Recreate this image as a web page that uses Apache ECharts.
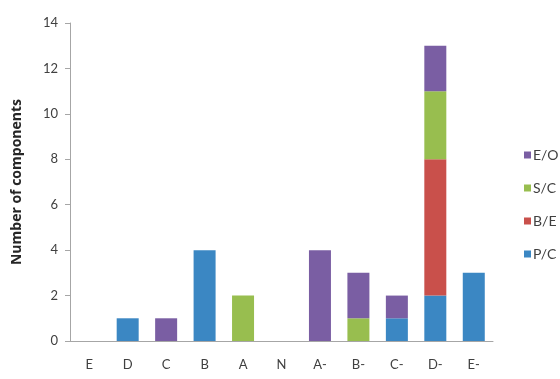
<!DOCTYPE html>
<html>
<head>
<meta charset="utf-8">
<script src="https://cdn.jsdelivr.net/npm/echarts@6/dist/echarts.min.js"></script>
<style>
  html, body { margin: 0; padding: 0; background: #fff; }
  #chart { width: 560px; height: 379px; }
</style>
</head>
<body>
<div id="chart"></div>
<script>
// Grade categories along the x axis
const categories = ['E', 'D', 'C', 'B', 'A', 'N', 'A-', 'B-', 'C-', 'D-', 'E-'];

// Number of components per grade, by type
const pcValues = [0, 1, 0, 4, 0, 0, 0, 0, 1, 2, 3];
const beValues = [0, 0, 0, 0, 0, 0, 0, 0, 0, 6, 0];
const scValues = [0, 0, 0, 0, 2, 0, 0, 1, 0, 3, 0];
const eoValues = [0, 0, 1, 0, 0, 0, 4, 2, 1, 2, 0];

const fontFamily = 'Lato, "Open Sans", sans-serif';

const makeSeries = (name, data, color) => ({
  name,
  type: 'bar',
  stack: 'total',
  barWidth: 22,
  data: data.map(v => (v === 0 ? null : v)),
  itemStyle: { color }
});

const chart = echarts.init(document.getElementById('chart'), null, { renderer: 'canvas' });
chart.setOption({
  animation: false,
  backgroundColor: '#ffffff',
  grid: { left: 70, right: 67, top: 23, bottom: 38 },
  legend: {
    orient: 'vertical',
    left: 519,
    top: 143,
    itemWidth: 7,
    itemHeight: 7,
    itemGap: 19,
    icon: 'rect',
    data: ['E/O', 'S/C', 'B/E', 'P/C'],
    textStyle: { fontFamily, fontSize: 14, color: '#404040', padding: [0, 0, 0, -3] }
  },
  xAxis: {
    type: 'category',
    data: categories,
    axisLine: { lineStyle: { color: '#a6a6a6', width: 1 } },
    axisTick: { show: false },
    axisLabel: { fontFamily, fontSize: 13, color: '#404040', margin: 17 }
  },
  yAxis: {
    type: 'value',
    min: 0,
    max: 14,
    interval: 2,
    name: 'Number of components',
    nameLocation: 'middle',
    nameGap: 46,
    nameTextStyle: { fontFamily: '"Open Sans", sans-serif', fontSize: 14, fontWeight: 'bold', color: '#262626' },
    axisLine: { show: true, lineStyle: { color: '#a6a6a6', width: 1 } },
    axisTick: { show: true, length: 5, lineStyle: { color: '#a6a6a6' } },
    splitLine: { show: false },
    axisLabel: { fontFamily, fontSize: 13, color: '#404040', margin: 12 }
  },
  series: [
    makeSeries('P/C', pcValues, '#3b87c3'),
    makeSeries('B/E', beValues, '#c9504b'),
    makeSeries('S/C', scValues, '#98be4f'),
    makeSeries('E/O', eoValues, '#7a5ea3')
  ]
});
</script>
</body>
</html>
